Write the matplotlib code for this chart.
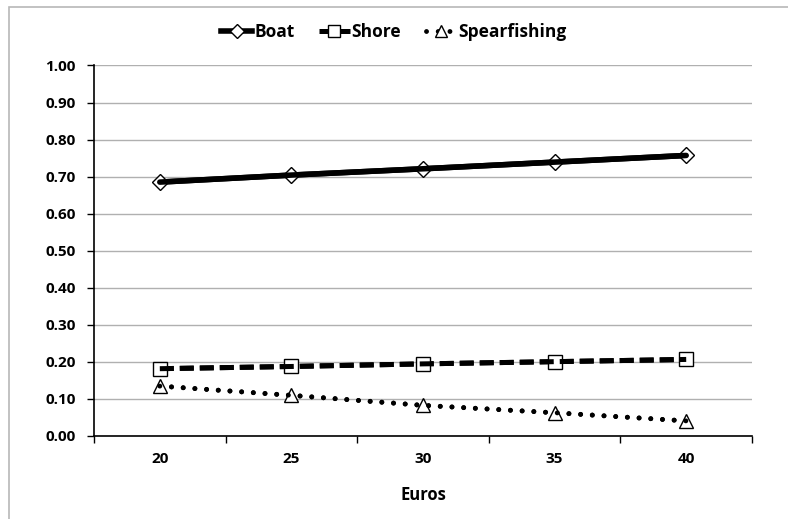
import matplotlib
matplotlib.use("Agg")
import matplotlib.pyplot as plt
from matplotlib.patches import Rectangle

categories = ["20", "25", "30", "35", "40"]
boat = [0.685, 0.704, 0.721, 0.739, 0.757]
shore = [0.181, 0.187, 0.194, 0.200, 0.206]
spear = [0.134, 0.109, 0.082, 0.062, 0.040]
yticks = [0.0, 0.1, 0.2, 0.3, 0.4, 0.5, 0.6, 0.7, 0.8, 0.9, 1.0]

plt.rcParams['font.family'] = ['Open Sans', 'DejaVu Sans']

fig = plt.figure(figsize=(7.88, 5.19), dpi=100)
ax = fig.add_axes([94/788, 1-435.7/519, (752-94)/788, (435.7-65.5)/519])

x = list(range(len(categories)))
boat_ls = '-'
shore_ls = (0, (2.8, 1.2))
spear_ls = (0, (0.01, 2.4))

ax.plot(x, boat, color='black', lw=4.0, ls=boat_ls, marker='D', ms=8.5,
        mfc='white', mec='black', mew=1.0, label='Boat', zorder=3)
ax.plot(x, boat, color='black', lw=4.0, ls=boat_ls, solid_capstyle='round', zorder=4)

ax.plot(x, shore, color='black', lw=3.6, ls=shore_ls, marker='s', ms=10,
        mfc='white', mec='black', mew=1.0, label='Shore', zorder=3)
ax.plot(x, shore, color='black', lw=3.6, ls=shore_ls, zorder=4)

ax.plot(x, spear, color='black', lw=3.5, ls=spear_ls, dash_capstyle='round',
        marker='^', ms=10.5, mfc='white', mec='black', mew=1.0, label='Spearfishing', zorder=3)
ax.plot(x, spear, color='black', lw=3.5, ls=spear_ls, dash_capstyle='round', zorder=4)

ax.set_xlim(-0.5, len(categories) - 0.5)
ax.set_ylim(0, 1.0)
ax.set_yticks(yticks)
ax.set_yticklabels([f"{v:.2f}" for v in yticks], fontsize=11, fontweight='bold')
ax.set_xticks(x)
ax.set_xticklabels(categories, fontsize=11, fontweight='bold')
ax.set_xticks([i - 0.5 for i in range(len(categories) + 1)], minor=True)
ax.tick_params(axis='x', which='major', length=0, pad=12)
ax.tick_params(axis='x', which='minor', length=5, width=1, direction='out')
ax.tick_params(axis='y', length=5, width=1, direction='out', pad=8)
ax.set_xlabel('Euros', fontsize=12, fontweight='bold', labelpad=14)

ax.yaxis.grid(True, color='#b0b0b0', lw=1)
ax.set_axisbelow(True)
for s in ['top', 'right']:
    ax.spines[s].set_visible(False)
ax.spines['left'].set_linewidth(1.2)
ax.spines['bottom'].set_linewidth(1.2)

leg = fig.legend(loc='center', bbox_to_anchor=(0.5, 1-32/519), ncol=3, frameon=False,
                 prop={'weight': 'bold', 'size': 12.5}, handlelength=1.8,
                 handletextpad=0.1, columnspacing=1.4, markerscale=0.8)

fig.patches.append(Rectangle((9/788, -0.1), 1.2, 1.1 - 7/519,
                             transform=fig.transFigure, fill=False,
                             edgecolor='#b8b8b8', lw=1.2))

fig.savefig('out.png', dpi=100)
